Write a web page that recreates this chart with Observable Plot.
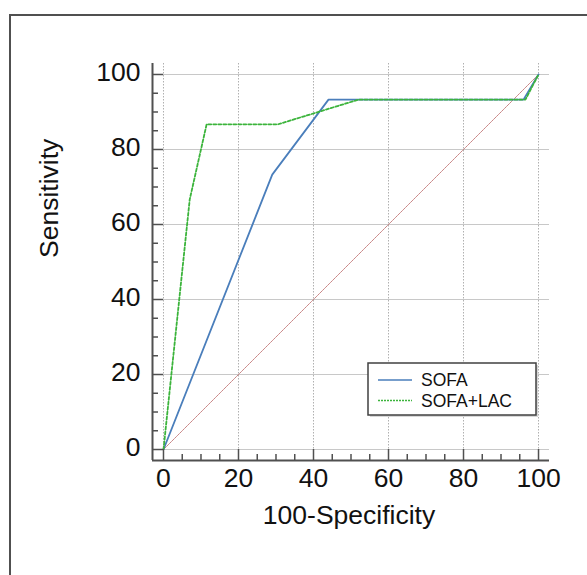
<!DOCTYPE html>
<html><head><meta charset="utf-8">
<script src="https://cdn.jsdelivr.net/npm/d3@7"></script>
<script src="https://cdn.jsdelivr.net/npm/@observablehq/plot@0.6"></script>
<style>
body{margin:0;background:#fff;font-family:"Liberation Sans",Arial,sans-serif;overflow:hidden;}
#frame{position:absolute;left:9px;top:14px;width:800px;height:800px;border-left:2px solid #505050;border-top:2px solid #505050;}
#chart{position:absolute;left:0;top:0;}
</style></head><body>
<div id="frame"></div><div id="chart"></div>
<script>
// ROC data (100-Specificity, Sensitivity)
const sofaX = [0, 29, 44, 96, 100];
const sofaY = [0, 73.3, 93.3, 93.3, 100];
const lacX = [0, 7, 11.5, 30.5, 52, 96.5, 100];
const lacY = [0, 66.7, 86.7, 86.7, 93.3, 93.3, 100];
const diagX = [0, 100];
const diagY = [0, 100];
const majorTicks = [0, 20, 40, 60, 80, 100];
const tickLabels = ["0", "20", "40", "60", "80", "100"];
const minorTicks = [5,10,15,25,30,35,45,50,55,65,70,75,85,90,95];
const seriesNames = ["SOFA", "SOFA+LAC"];
const xLabel = "100-Specificity";
const yLabel = "Sensitivity";

const sofa = sofaX.map((x, i) => ({x, y: sofaY[i]}));
const lac = lacX.map((x, i) => ({x, y: lacY[i]}));
const diag = diagX.map((x, i) => ({x, y: diagY[i]}));
const dom = [-2.93, 102.93];
const frameSize = 397;
const axisColor = "#505050";
const blue = "#4a7ebb";
const green = "#3cb43c";

const chart = Plot.plot({
  width: 587, height: 575,
  marginLeft: 152, marginRight: 38, marginTop: 63, marginBottom: 115,
  style: {fontFamily: "'Liberation Sans', Arial, sans-serif", background: "transparent"},
  x: {domain: dom, axis: null},
  y: {domain: dom, axis: null},
  marks: [
    Plot.gridY(majorTicks, {stroke: "#c8c8c8", strokeOpacity: 1, strokeWidth: 1}),
    Plot.gridX(majorTicks, {stroke: "#b0b0b0", strokeOpacity: 1, strokeWidth: 1, strokeDasharray: "1.5,1.5"}),
    Plot.line(diag, {x: "x", y: "y", stroke: "#c98686", strokeWidth: 1, strokeDasharray: "1.5,0.8"}),
    Plot.line(sofa, {x: "x", y: "y", stroke: blue, strokeWidth: 1.8}),
    Plot.line(lac, {x: "x", y: "y", stroke: green, strokeWidth: 1.8, strokeDasharray: "3,2"}),
    Plot.ruleX([dom[0]], {stroke: axisColor, strokeWidth: 2}),
    Plot.ruleY([dom[0]], {stroke: axisColor, strokeWidth: 2}),
    Plot.ruleX(majorTicks, {stroke: axisColor, strokeWidth: 1.5, insetTop: frameSize - 11}),
    Plot.ruleX(minorTicks, {stroke: axisColor, strokeWidth: 1.5, insetTop: frameSize - 6}),
    Plot.ruleY(majorTicks, {stroke: axisColor, strokeWidth: 1.5, insetRight: frameSize - 11}),
    Plot.ruleY(minorTicks, {stroke: axisColor, strokeWidth: 1.5, insetRight: frameSize - 6}),
    Plot.text(majorTicks, {x: d => d, text: (d, i) => tickLabels[i], frameAnchor: "bottom", dy: 26, fontSize: 26.5, fill: "#111"}),
    Plot.text(majorTicks, {y: d => d, text: (d, i) => tickLabels[i], frameAnchor: "left", textAnchor: "end", dx: -12, dy: -2, fontSize: 26.5, fill: "#111"}),
    Plot.text([xLabel], {text: d => d, frameAnchor: "bottom", dx: -2, dy: 63, fontSize: 26.5, fill: "#111"}),
    Plot.text([yLabel], {text: d => d, frameAnchor: "left", rotate: -90, dx: -103, dy: -4, fontSize: 26.5, fill: "#111"})
  ]
});

// Legend
const svg = d3.select(chart);
const lg = svg.append("g").attr("transform", "translate(368,363)");
lg.append("rect").attr("x", 2).attr("y", 2).attr("width", 168).attr("height", 52).attr("fill", "#d8d8d8");
lg.append("rect").attr("width", 168).attr("height", 52).attr("fill", "#fff").attr("stroke", "#404040").attr("stroke-width", 1.5);
const styles = [{stroke: blue, dash: null}, {stroke: green, dash: "2,1"}];
seriesNames.forEach((name, i) => {
  const yy = 17 + i * 20.5;
  lg.append("line").attr("x1", 10).attr("x2", 44).attr("y1", yy).attr("y2", yy)
    .attr("stroke", styles[i].stroke).attr("stroke-width", 1.3).attr("stroke-dasharray", styles[i].dash);
  lg.append("text").attr("x", 53).attr("y", yy).attr("dy", "0.36em").attr("text-anchor", "start")
    .attr("font-size", 17.5).attr("fill", "#111").text(name);
});

document.getElementById("chart").appendChild(chart);
</script>
</body></html>
